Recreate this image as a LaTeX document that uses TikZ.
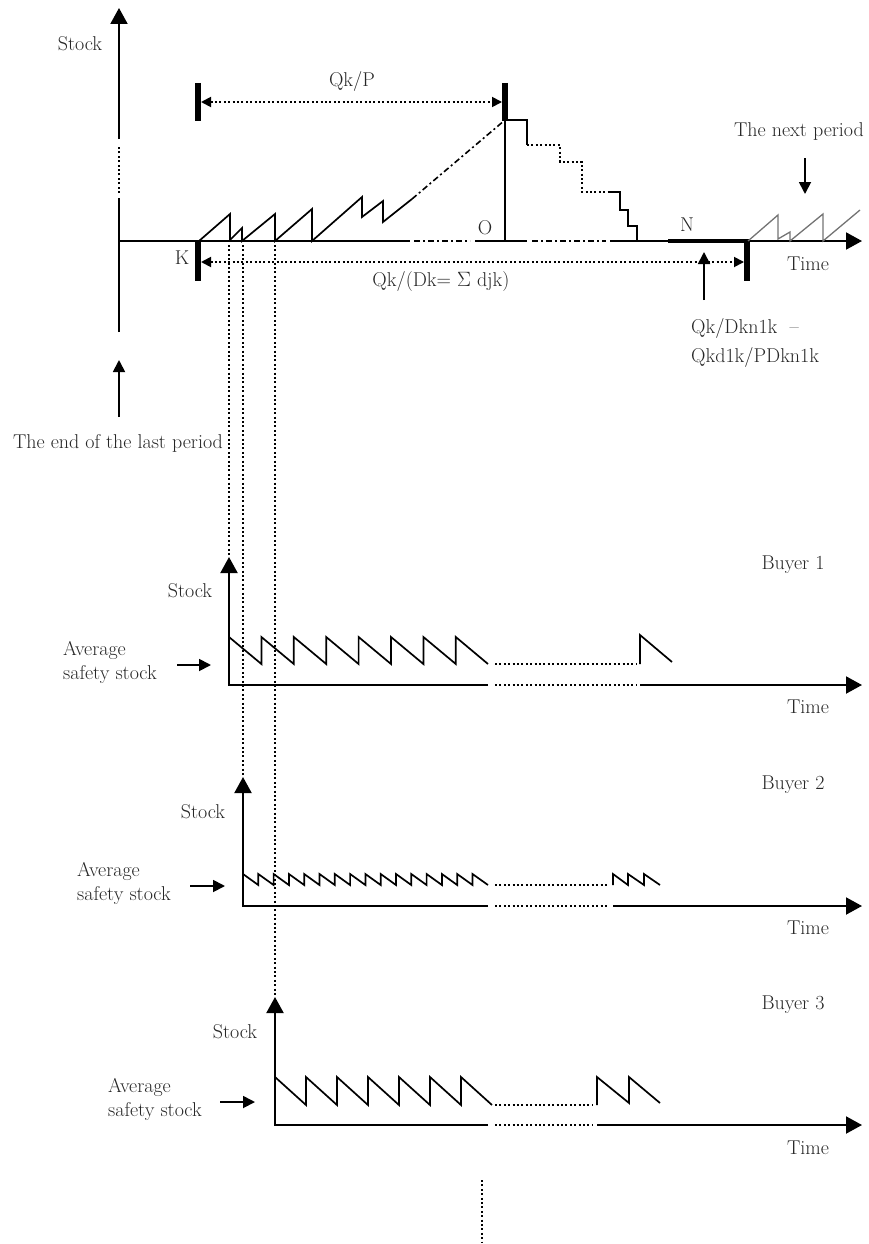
\documentclass[tikz,border=0pt]{standalone}
\usepackage{tikz}
\usetikzlibrary{arrows.meta}

\tikzset{
  axis/.style={line width=2pt, line join=miter, -{Triangle[length=16pt,width=17pt]}},
  solidline/.style={line width=2pt},
  saw/.style={line width=1.7pt, line join=miter},
  dots/.style={line width=1.8pt, dash pattern=on 2pt off 2.4pt},
  dashdots/.style={line width=1.8pt, dash pattern=on 6pt off 3pt on 2pt off 3pt},
  bar/.style={line width=5.5pt, line join=miter},
  pointer/.style={line width=1.8pt, -{Triangle[length=12pt,width=12pt]}},
  span/.style={dots, {Triangle[length=10pt,width=10pt]}-{Triangle[length=10pt,width=10pt]}},
  lbl/.style={text=black!85, font=\fontsize{20}{24}\selectfont, inner sep=0pt},
}

\begin{document}
\begin{tikzpicture}[x=1pt, y=-1pt]
  \useasboundingbox (0,0) rectangle (868,1244);

  % main axes
  \draw[solidline] (119,332) -- (119,198);
  \draw[dots] (119,193) -- (119,146);
  \draw[axis] (119,139) -- (119,8);
  \node[lbl] (stock0) at (80,44) {Stock};

  \draw[solidline] (119,241) -- (410,241);
  \draw[dashdots] (414,241) -- (470,241);
  \draw[solidline] (475,241) -- (527,241);
  \draw[dashdots] (532,241) -- (606,241);
  \draw[solidline] (610,241) -- (668,241);
  \draw[line width=4pt] (668,241) -- (747,241);
  \draw[axis] (745,241) -- (862,241);
  \node[lbl] (time0) at (808,264) {Time};

  \draw[bar] (198,83) -- (198,121);
  \draw[bar] (198,240) -- (198,281);
  \draw[bar] (505,83) -- (505,121);
  \draw[bar] (747,239) -- (747,281);

  \draw[span] (201,102) -- (502,102);
  \node[lbl] (qkp) at (352,82) {Qk/P};
  \draw[span] (201,262) -- (744,262);
  \node[lbl] (qkdk) at (441,282) {Qk/(Dk= $\Sigma$ djk)};

  \node[lbl] (k) at (182,258) {K};
  \node[lbl] (o) at (485,228) {O};
  \node[lbl] (n) at (687,225) {N};

  \draw[saw] (199,241) -- (230,214) -- (230,240) -- (242,228) -- (242,241)
    -- (275,214) -- (275,241) -- (312,209) -- (312,241) -- (362,197)
    -- (362,217) -- (383,201) -- (383,222) -- (412,199);
  \draw[dashdots, line width=1.6pt] (412,199) -- (505,120);

  \draw[line width=1.6pt] (505,120) -- (505,241);
  \draw[saw] (505,120) -- (527,120) -- (527,145);
  \draw[dots] (527,145) -- (560,145) -- (560,162) -- (582,162) -- (582,192) -- (610,192);
  \draw[saw] (610,192) -- (620,192) -- (620,210) -- (628,210) -- (628,226)
    -- (637,226) -- (637,241);

  \draw[saw, line width=1.3pt, black!55] (748,241) -- (778,215) -- (778,239)
    -- (790,232) -- (790,241) -- (823,214) -- (823,241) -- (860,210);
  \node[lbl] (nextp) at (799,132) {The next period};
  \draw[pointer] (805,158) -- (805,194);

  \draw[pointer] (704,300) -- (704,252);
  \node[lbl, anchor=west] (len1) at (691,328) {Qk/Dkn1k \ --};
  \node[lbl, anchor=west] (len2) at (691,357) {Qkd1k/PDkn1k};

  \draw[pointer] (119,417) -- (119,360);
  \node[lbl] (lastend) at (118,443) {The end of the last period};

  \draw[dots] (229,245) -- (229,556);
  \draw[dots] (243,245) -- (243,776);
  \draw[dots] (275,245) -- (275,996);

  % buyer 1
  \draw[axis] (488,685) -- (229,685) -- (229,557);
  \draw[dots] (495,685) -- (636,685);
  \draw[axis] (640,685) -- (862,685);
  \draw[saw] (229,637) \foreach \i in {1,...,7}{ -- ({229+32.4*\i},664) -- ({229+32.4*\i},637) } -- (488,664);
  \draw[dots] (495,664) -- (636,664);
  \draw[saw] (640,664) -- (640,635) -- (672,662);
  \draw[pointer] (177,665) -- (211,665);
  \node[lbl] (stock1) at (190,591) {Stock};
  \node[lbl] (buyer1) at (793,565) {Buyer 1};
  \node[lbl] (time1) at (808,707) {Time};
  \node[lbl, anchor=west, align=left] (avg1) at (63,662) {Average\\safety stock};

  % buyer 2
  \draw[axis] (488,906) -- (243,906) -- (243,777);
  \draw[dots] (495,906) -- (609,906);
  \draw[axis] (613,906) -- (862,906);
  \draw[saw] (243,874) \foreach \i in {1,...,15}{ -- ({243+15.3*\i},885) -- ({243+15.3*\i},874) } -- (488,885);
  \draw[dots] (495,885) -- (609,885);
  \draw[saw] (613,885) -- (613,874) -- (628,885) -- (628,874) -- (644,885)
    -- (644,874) -- (660,885);
  \draw[pointer] (190,886) -- (225,886);
  \node[lbl] (stock2) at (203,812) {Stock};
  \node[lbl] (buyer2) at (793,785) {Buyer 2};
  \node[lbl] (time2) at (808,928) {Time};
  \node[lbl, anchor=west, align=left] (avg2) at (77,883) {Average\\safety stock};

  % buyer 3
  \draw[axis] (488,1125) -- (275,1125) -- (275,997);
  \draw[dots] (495,1125) -- (593,1125);
  \draw[axis] (597,1125) -- (862,1125);
  \draw[saw] (275,1077) \foreach \i in {1,...,6}{ -- ({275+31*\i},1105) -- ({275+31*\i},1077) } -- (492,1105);
  \draw[dots] (495,1105) -- (593,1105);
  \draw[saw] (597,1105) -- (597,1077) -- (629,1103) -- (629,1077) -- (660,1103);
  \draw[pointer] (220,1102) -- (255,1102);
  \node[lbl] (stock3) at (235,1032) {Stock};
  \node[lbl] (buyer3) at (793,1005) {Buyer 3};
  \node[lbl] (time3) at (808,1148) {Time};
  \node[lbl, anchor=west, align=left] (avg3) at (108,1099) {Average\\safety stock};

  \draw[dots] (482,1180) -- (482,1242);
\end{tikzpicture}
\end{document}
